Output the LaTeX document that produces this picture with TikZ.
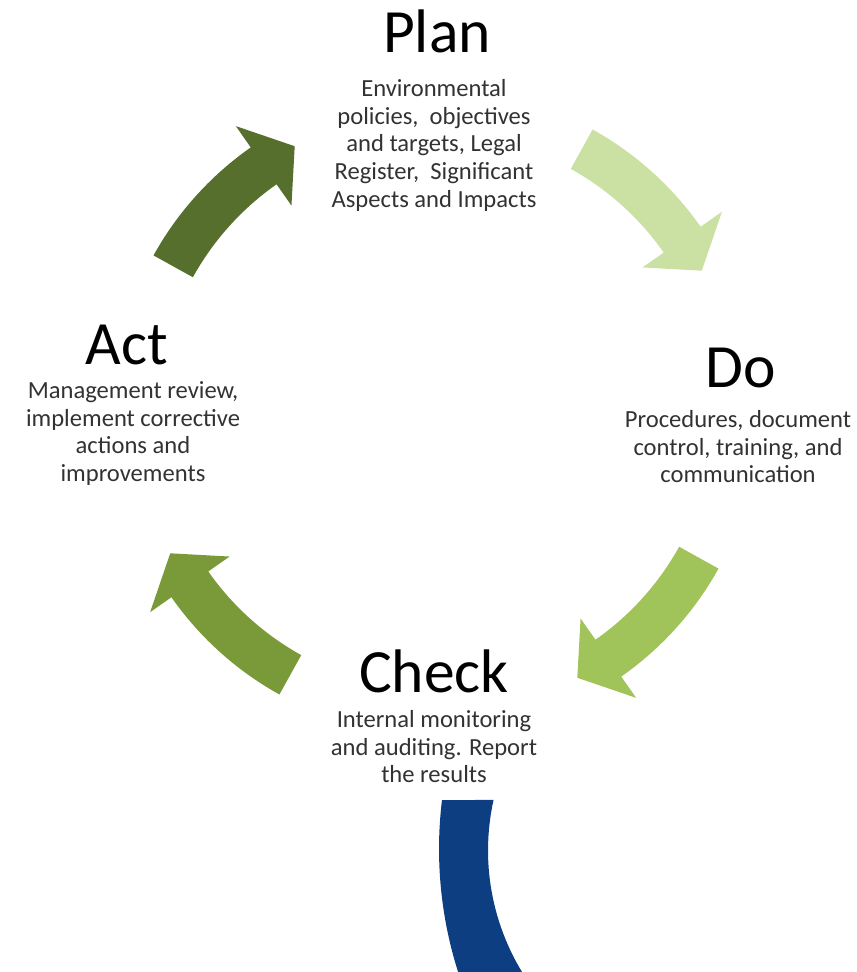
\documentclass[tikz,border=0pt]{standalone}
\usepackage{fontspec}
\setmainfont{Carlito}
\usetikzlibrary{calc}
\definecolor{planGreen}{RGB}{86,111,45}
\definecolor{doGreen}{RGB}{203,224,163}
\definecolor{checkGreen}{RGB}{160,196,90}
\definecolor{actGreen}{RGB}{122,154,58}
\definecolor{ringBlue}{RGB}{14,62,130}
\definecolor{bodyGray}{RGB}{50,50,50}
% curved block arrow round the cycle: #1 tail angle, #2 colour
\newcommand{\cycleArrow}[2]{%
  \pgfmathsetmacro{\headAngle}{#1+26}
  \pgfmathsetmacro{\tipAngle}{#1+33}
  \fill[#2] plot[domain=#1:\headAngle, samples=24] ({436+278*cos(\x)},{412+278*sin(\x)})
    -- ({436+252*cos(\headAngle)},{412+252*sin(\headAngle)})
    -- ({436+301*cos(\tipAngle)},{412+301*sin(\tipAngle)})
    -- ({436+349*cos(\headAngle)},{412+349*sin(\headAngle)})
    -- plot[domain=\headAngle:#1, samples=24] ({436+323*cos(\x)},{412+323*sin(\x)})
    -- cycle;}

\begin{document}
\begin{tikzpicture}[x=0.02cm, y=-0.02cm,
    stage/.style={inner sep=0pt, anchor=base, font=\fontsize{35}{42}\selectfont},
    stagetext/.style={inner sep=0pt, anchor=north, align=center, text=bodyGray,
      font=\fontsize{14}{15.8}\selectfont}]
        \useasboundingbox (0,0) rectangle (857,972);

        % Arrows of the cycle
        \cycleArrow{-151}{planGreen}
        \cycleArrow{-61}{doGreen}
        \cycleArrow{29}{checkGreen}
        \cycleArrow{119}{actGreen}

        % Stage titles
        \node[stage] (plan) at (437,53) {Plan};
        \node[stage] (do) at (741,388) {Do};
        \node[stage] (check) at (434,692) {Check};
        \node[stage] (act) at (127,365) {Act};

        % Stage descriptions
        \node[stagetext] (plantext) at (434,79) {Environmental\\policies,\ \ objectives\\and targets, Legal\\Register,\ \ Significant\\Aspects and Impacts};
        \node[stagetext] (dotext) at (738,410) {Procedures, document\\control, training, and\\communication};
        \node[stagetext] (checktext) at (434,710) {Internal monitoring\\and auditing. Report\\the results};
        \node[stagetext] (acttext) at (133,381) {Management review,\\implement corrective\\actions and\\improvements};

        % Blue ring piece at the bottom
        \fill[ringBlue] plot[domain=186.9:162.4, samples=30] ({845+406*cos(\x)},{849+406*sin(\x)})
          -- plot[domain=148.7:192.5, samples=30] ({722+234*cos(\x)},{850.5+234*sin(\x)}) -- cycle;
\end{tikzpicture}
\end{document}
